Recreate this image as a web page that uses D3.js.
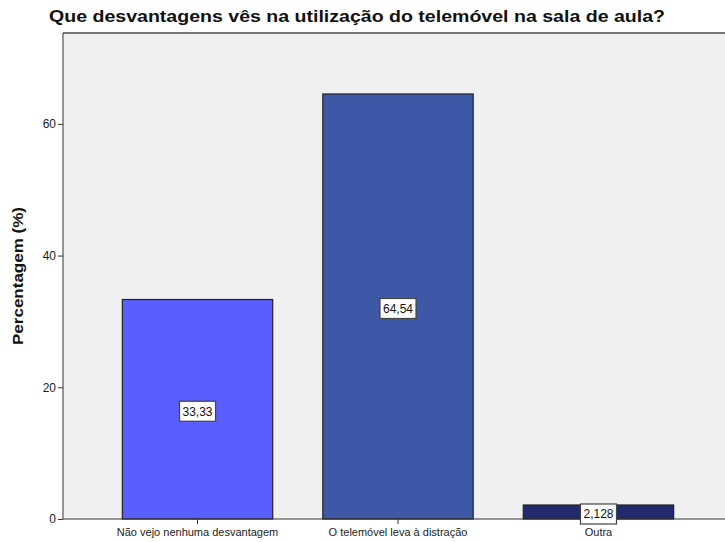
<!DOCTYPE html>
<html>
<head>
<meta charset="utf-8">
<script src="https://cdn.jsdelivr.net/npm/d3@7"></script>
<style>
body{margin:0;background:#fff;}
svg{display:block;font-family:"Liberation Sans",Arial,sans-serif;}
</style>
</head>
<body>
<svg id="chart" width="725" height="542"></svg>
<script>
const categories = ["Não vejo nenhuma desvantagem", "O telemóvel leva à distração", "Outra"];
const values = [33.33, 64.54, 2.128];
const valueLabels = ["33,33", "64,54", "2,128"];
const barColors = ["#5a5eff", "#3e58a8", "#222a6c"];
const yTicks = [0, 20, 40, 60];
const title = "Que desvantagens vês na utilização do telemóvel na sala de aula?";
const yTitle = "Percentagem (%)";

const svg = d3.select("#chart");
const pLeft = 63, pRight = 733, pTop = 33, pBottom = 519;

const x = d3.scaleBand().domain(categories).range([pLeft, pRight]).paddingInner(0.25).paddingOuter(0.296);
const y = d3.scaleLinear().domain([0, 73.8]).range([pBottom, pTop]);

svg.append("rect").attr("x", pLeft).attr("y", pTop).attr("width", pRight - pLeft).attr("height", pBottom - pTop).attr("fill", "#f0f0f0");
svg.append("line").attr("x1", pLeft).attr("x2", 725).attr("y1", pTop).attr("y2", pTop).attr("stroke", "#777").attr("stroke-width", 2);

svg.selectAll("rect.bar").data(values).join("rect").attr("class", "bar")
  .attr("x", (d, i) => x(categories[i]))
  .attr("width", x.bandwidth())
  .attr("y", d => y(d))
  .attr("height", d => y(0) - y(d))
  .attr("fill", (d, i) => barColors[i])
  .attr("stroke", "#222").attr("stroke-width", 1.2);

// y axis
const yAxis = svg.append("g").attr("transform", `translate(${pLeft},0)`)
  .call(d3.axisLeft(y).tickValues(yTicks).tickSize(5).tickPadding(2).tickFormat(d3.format("d")));
yAxis.select(".domain").attr("stroke", "#333").attr("d", `M0,${pTop}V${pBottom}`);
yAxis.selectAll(".tick line").attr("stroke", "#333");
yAxis.selectAll(".tick text").attr("font-size", 12).attr("fill", "#222").attr("font-family", "Liberation Sans, Arial, sans-serif");

// x axis
const xAxis = svg.append("g").attr("transform", `translate(0,${pBottom})`)
  .call(d3.axisBottom(x).tickSize(5).tickPadding(4));
xAxis.select(".domain").attr("stroke", "#333").attr("d", `M${pLeft},0H725`);
xAxis.selectAll(".tick line").attr("stroke", "#333");
xAxis.selectAll(".tick text").attr("font-size", 11).attr("fill", "#222").attr("font-family", "Liberation Sans, Arial, sans-serif");

// value labels
const lab = svg.selectAll("g.vl").data(values).join("g").attr("class", "vl")
  .attr("transform", (d, i) => `translate(${x(categories[i]) + x.bandwidth() / 2},${(y(d) + y(0)) / 2 + 2})`);
lab.each(function (d, i) {
  const g = d3.select(this);
  const t = g.append("text").attr("text-anchor", "middle").attr("dy", "0.36em").attr("font-size", 12).attr("fill", "#111").text(valueLabels[i]);
  const w = t.node().getComputedTextLength();
  g.insert("rect", "text").attr("x", -w / 2 - 3).attr("y", -10).attr("width", w + 6).attr("height", 20)
    .attr("fill", "#fff").attr("stroke", "#444").attr("stroke-width", 1.2);
});

// titles
svg.append("text").attr("x", 357).attr("y", 22).attr("text-anchor", "middle")
  .attr("font-size", 16).attr("font-weight", "bold").attr("fill", "#111")
  .attr("textLength", 616).attr("lengthAdjust", "spacingAndGlyphs").text(title);
svg.append("text").attr("transform", `translate(23,${(pTop + pBottom) / 2}) rotate(-90)`).attr("text-anchor", "middle")
  .attr("font-size", 15).attr("font-weight", "bold").attr("fill", "#111")
  .attr("textLength", 138).attr("lengthAdjust", "spacingAndGlyphs").text(yTitle);
</script>
</body>
</html>
